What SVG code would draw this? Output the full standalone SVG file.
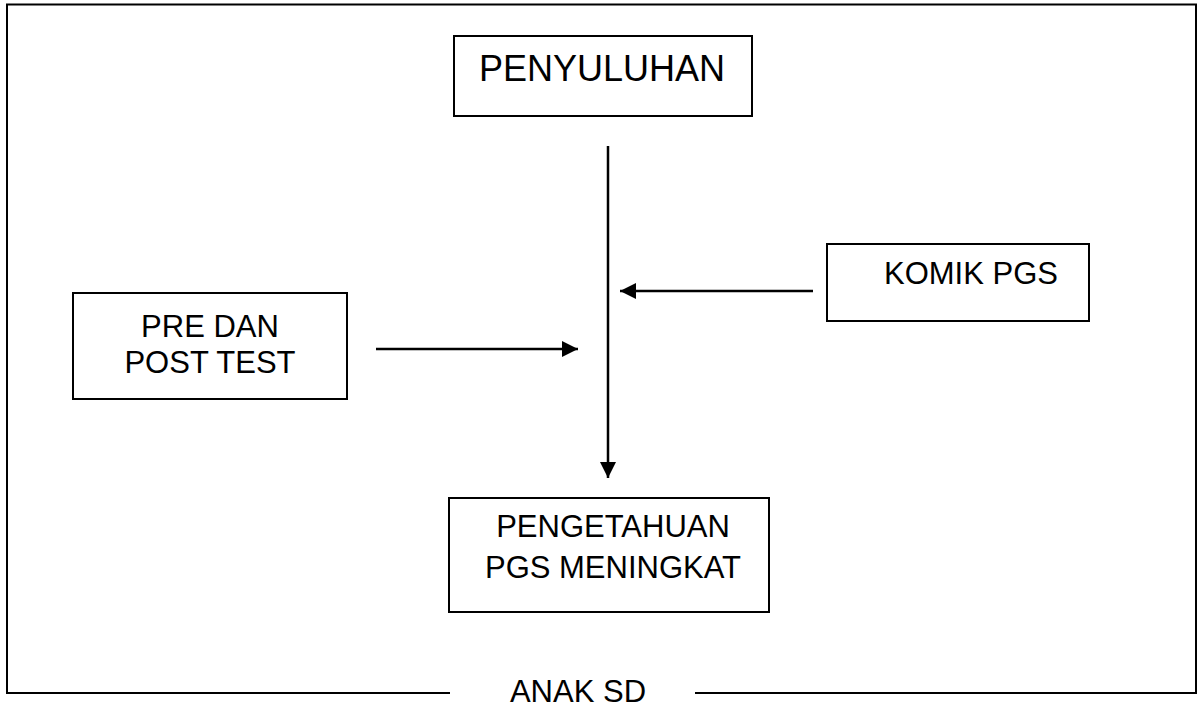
<svg xmlns="http://www.w3.org/2000/svg" width="1203" height="705" viewBox="0 0 1203 705">
<style>
  .box { fill: #fff; stroke: #000; stroke-width: 2; }
  .frame { fill: none; stroke: #000; stroke-width: 2; }
  .conn { stroke: #000; stroke-width: 2.5; fill: none; }
  text { font-family: "Liberation Sans", Arial, sans-serif; font-size: 31px; fill: #000; text-anchor: middle; }
</style>
<defs>
  <marker id="arrow" viewBox="0 0 16 16" refX="16" refY="8" markerWidth="16" markerHeight="16" markerUnits="userSpaceOnUse" orient="auto">
    <path d="M0,0 L16,8 L0,16 Z" fill="#000"/>
  </marker>
</defs>
<rect width="1203" height="705" fill="#fff"/>
<g id="frame">
  <path class="frame" d="M450,693 L7,693 L7,4.5 L1196,4.5 L1196,693 L695,693"/>
  <text x="578" y="702">ANAK SD</text>
</g>
<g id="penyuluhan">
  <rect class="box" x="454" y="36" width="298" height="80"/>
  <text x="602" y="81" style="font-size:36px">PENYULUHAN</text>
</g>
<g id="komik">
  <rect class="box" x="827" y="244" width="262" height="77"/>
  <text x="971" y="284">KOMIK PGS</text>
</g>
<g id="pretest">
  <rect class="box" x="73" y="293" width="274" height="106"/>
  <text x="210" y="337">PRE DAN</text>
  <text x="210" y="373">POST TEST</text>
</g>
<g id="pengetahuan">
  <rect class="box" x="449" y="498" width="320" height="114"/>
  <text x="613" y="537">PENGETAHUAN</text>
  <text x="613" y="578">PGS MENINGKAT</text>
</g>
<g id="connectors">
  <line class="conn" x1="608" y1="146" x2="608" y2="478" marker-end="url(#arrow)"/>
  <line class="conn" x1="813" y1="291" x2="620" y2="291" marker-end="url(#arrow)"/>
  <line class="conn" x1="376" y1="349" x2="578" y2="349" marker-end="url(#arrow)"/>
</g>
</svg>
